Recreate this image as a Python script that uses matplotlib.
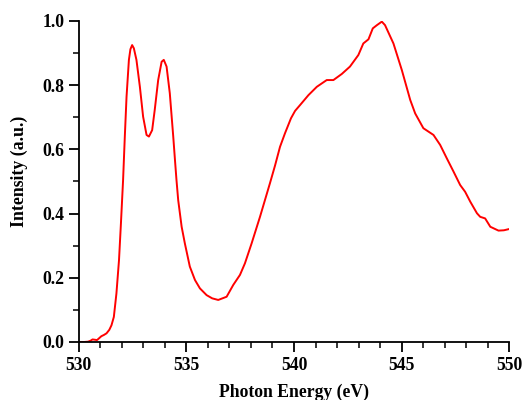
import matplotlib.pyplot as plt
from matplotlib.ticker import MultipleLocator

# spectrum
energy = [530.0, 530.25, 530.43, 530.55, 530.64, 530.75, 530.85, 530.95, 531.05, 531.17,
          531.29, 531.42, 531.52, 531.63, 531.75, 531.87, 531.96, 532.06, 532.14, 532.22,
          532.33, 532.40, 532.48, 532.56, 532.68, 532.84, 532.99, 533.15, 533.26, 533.41,
          533.53, 533.69, 533.85, 533.95, 534.08, 534.23, 534.39, 534.47, 534.54, 534.62,
          534.78, 534.93, 535.16, 535.40, 535.63, 535.94, 536.20, 536.48, 536.87, 537.18,
          537.49, 537.72, 538.03, 538.42, 538.88, 539.12, 539.35, 539.58, 539.86, 540.05,
          540.28, 540.67, 541.06, 541.30, 541.52, 541.83, 542.22, 542.60, 542.99, 543.22,
          543.46, 543.66, 543.85, 544.08, 544.23, 544.62, 545.01, 545.40, 545.63, 546.01,
          546.48, 546.79, 547.10, 547.41, 547.72, 547.95, 548.19, 548.50, 548.65, 548.88,
          549.12, 549.50, 549.75, 550.0]
intensity = [0.0, 0.0, 0.001, 0.004, 0.008, 0.007, 0.006, 0.012, 0.018, 0.022,
             0.027, 0.038, 0.052, 0.078, 0.151, 0.255, 0.37, 0.505, 0.64, 0.764,
             0.879, 0.912, 0.925, 0.915, 0.879, 0.795, 0.702, 0.645, 0.640, 0.660,
             0.723, 0.816, 0.873, 0.879, 0.858, 0.775, 0.640, 0.567, 0.505, 0.442,
             0.359, 0.307, 0.235, 0.193, 0.167, 0.146, 0.136, 0.131, 0.141, 0.178,
             0.209, 0.245, 0.307, 0.390, 0.494, 0.550, 0.608, 0.650, 0.697, 0.720,
             0.738, 0.769, 0.795, 0.806, 0.816, 0.816, 0.835, 0.858, 0.894, 0.930,
             0.943, 0.977, 0.987, 0.998, 0.987, 0.930, 0.847, 0.754, 0.712, 0.666,
             0.645, 0.614, 0.572, 0.531, 0.489, 0.468, 0.437, 0.401, 0.390, 0.385,
             0.359, 0.347, 0.348, 0.352]

plt.rcParams['font.family'] = ['Liberation Serif', 'DejaVu Serif']
plt.rcParams['font.weight'] = 'bold'

fig = plt.figure(figsize=(5.25, 4.0), dpi=100)
ax = fig.add_axes([0.150, 0.145, 0.820, 0.8025])
ax.plot(energy, intensity, color='red', lw=1.4)

ax.set_xlim(530, 550)
ax.set_ylim(0, 1.0)
ax.xaxis.set_major_locator(MultipleLocator(5))
ax.xaxis.set_minor_locator(MultipleLocator(1))
ax.yaxis.set_major_locator(MultipleLocator(0.2))
ax.yaxis.set_minor_locator(MultipleLocator(0.1))
ax.yaxis.set_major_formatter(plt.FormatStrFormatter('%.1f'))
ax.spines['top'].set_visible(False)
ax.spines['right'].set_visible(False)
for s in ['left', 'bottom']:
    ax.spines[s].set_linewidth(1.3)
ax.tick_params(which='major', direction='out', length=7, width=1.3, labelsize=12.7)
ax.tick_params(which='minor', direction='out', length=4, width=1.1)
for lab in ax.get_xticklabels() + ax.get_yticklabels():
    lab.set_fontweight('bold')

ax.set_xlabel('Photon Energy (eV)', fontsize=12.7, fontweight='bold', labelpad=7.5)
ax.set_ylabel('Intensity (a.u.)', fontsize=12.8, fontweight='bold', labelpad=10)
ax.yaxis.label.set_y(0.533)

fig.savefig('out.png', dpi=100)
